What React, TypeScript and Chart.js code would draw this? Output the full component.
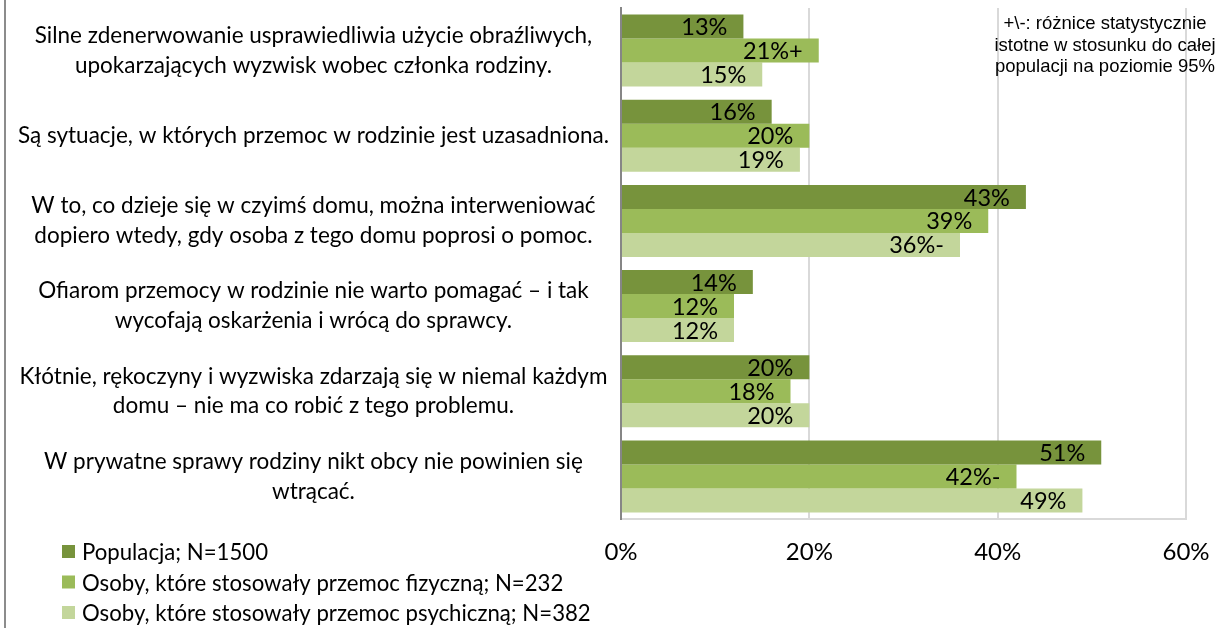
import React, { useEffect, useRef } from 'react';
import { Chart, registerables } from 'chart.js';
Chart.register(...registerables);

const categories: string[][] = [
  ['Silne zdenerwowanie usprawiedliwia użycie obraźliwych,', 'upokarzających wyzwisk wobec członka rodziny.'],
  ['Są sytuacje, w których przemoc w rodzinie jest uzasadniona.'],
  ['W to, co dzieje się w czyimś domu, można interweniować', 'dopiero wtedy, gdy osoba z tego domu poprosi o pomoc.'],
  ['Ofiarom przemocy w rodzinie nie warto pomagać – i tak', 'wycofają oskarżenia i wrócą do sprawcy.'],
  ['Kłótnie, rękoczyny i wyzwiska zdarzają się w niemal każdym', 'domu – nie ma co robić z tego problemu.'],
  ['W prywatne sprawy rodziny nikt obcy nie powinien się', 'wtrącać.'],
];
const seriesNames = [
  'Populacja; N=1500',
  'Osoby, które stosowały przemoc fizyczną; N=232',
  'Osoby, które stosowały przemoc psychiczną; N=382',
];
const populacja = [13, 16, 43, 14, 20, 51];
const fizyczna = [21, 20, 39, 12, 18, 42];
const psychiczna = [15, 19, 36, 12, 20, 49];
const populacjaMarks = ['', '', '', '', '', ''];
const fizycznaMarks = ['+', '', '', '', '', '-'];
const psychicznaMarks = ['', '', '-', '', '', ''];
const xTicks = [0, 20, 40, 60];
const noteLines = ['+\\-: różnice statystycznie', 'istotne w stosunku do całej', 'populacji na poziomie 95%'];

const colors = ['#77933C', '#9BBB59', '#C3D69B'];
const FONT = 'Lato';

export default function App() {
  const ref = useRef<HTMLCanvasElement>(null);
  useEffect(() => {
    if (!ref.current) return;
    const marks = [populacjaMarks, fizycznaMarks, psychicznaMarks];
    const labelsPlugin = {
      id: 'barLabels',
      afterDatasetsDraw(chart: any) {
        const ctx = chart.ctx;
        ctx.save();
        ctx.font = `23.5px ${FONT}`;
        ctx.fillStyle = '#000';
        ctx.textAlign = 'right';
        ctx.textBaseline = 'middle';
        chart.data.datasets.forEach((ds: any, di: number) => {
          const meta = chart.getDatasetMeta(di);
          meta.data.forEach((bar: any, i: number) => {
            ctx.fillText(ds.data[i] + '%' + marks[di][i], bar.x - 16, bar.y + 1);
          });
        });
        ctx.restore();
      },
      afterDraw(chart: any) {
        const ctx = chart.ctx;
        ctx.save();
        ctx.strokeStyle = '#8c8c8c';
        ctx.lineWidth = 2;
        ctx.beginPath();
        ctx.moveTo(5, 0);
        ctx.lineTo(5, 628);
        ctx.stroke();
        ctx.font = `22.2px ${FONT}`;
        ctx.textAlign = 'left';
        ctx.textBaseline = 'middle';
        chart.data.datasets.forEach((ds: any, di: number) => {
          const y = 552 + di * 30.5;
          ctx.fillStyle = ds.backgroundColor;
          ctx.fillRect(62, y - 7, 13, 13);
          ctx.fillStyle = '#000';
          ctx.fillText(ds.label, 82, y + 1);
        });
        ctx.font = '18.5px "Liberation Sans"';
        ctx.textAlign = 'center';
        ctx.textBaseline = 'alphabetic';
        noteLines.forEach((t, i) => {
          ctx.fillText(t, 1105, 29 + i * 21.5);
        });
        ctx.restore();
      },
    };
    const chart = new Chart(ref.current, {
      type: 'bar',
      data: {
        labels: categories,
        datasets: [
          { label: seriesNames[0], data: populacja, backgroundColor: colors[0] },
          { label: seriesNames[1], data: fizyczna, backgroundColor: colors[1] },
          { label: seriesNames[2], data: psychiczna, backgroundColor: colors[2] },
        ],
      },
      options: {
        indexAxis: 'y',
        animation: false,
        responsive: true,
        maintainAspectRatio: false,
        layout: { padding: { top: 8, right: 32, left: 0, bottom: 0 } },
        datasets: { bar: { categoryPercentage: 0.845, barPercentage: 1 } },
        plugins: { legend: { display: false }, tooltip: { enabled: false } },
        scales: {
          x: {
            min: 0,
            max: 60,
            afterBuildTicks: (s: any) => {
              s.ticks = xTicks.map((v) => ({ value: v }));
            },
            afterFit: (s: any) => {
              s.height = 109;
              s.paddingLeft = 0;
              s.paddingRight = 0;
            },
            ticks: {
              callback: (v: any) => v + '%',
              font: { family: FONT, size: 24 },
              color: '#000',
              padding: 19,
              maxRotation: 0,
            },
            grid: {
              drawTicks: false,
              color: (c: any) => (c.tick && c.tick.value === 0 ? 'rgba(0,0,0,0)' : '#D9D9D9'),
              lineWidth: 2,
            },
            border: { display: true, color: '#D9D9D9', width: 2 },
          },
          y: {
            afterFit: (s: any) => {
              s.width = 621;
              s.paddingTop = 0;
              s.paddingBottom = 0;
            },
            ticks: {
              crossAlign: 'center',
              padding: 4,
              font: { family: FONT, size: 22.5, lineHeight: 1.33 },
              color: '#000',
            },
            grid: { display: false },
            border: { display: true, color: '#868686', width: 2 },
          },
        },
      },
      plugins: [labelsPlugin],
    } as any);
    return () => chart.destroy();
  }, []);
  return (
    <div style={{ position: 'absolute', left: 0, top: 0, width: 1218, height: 628, background: '#fff' }}>
      <canvas ref={ref} />
    </div>
  );
}
